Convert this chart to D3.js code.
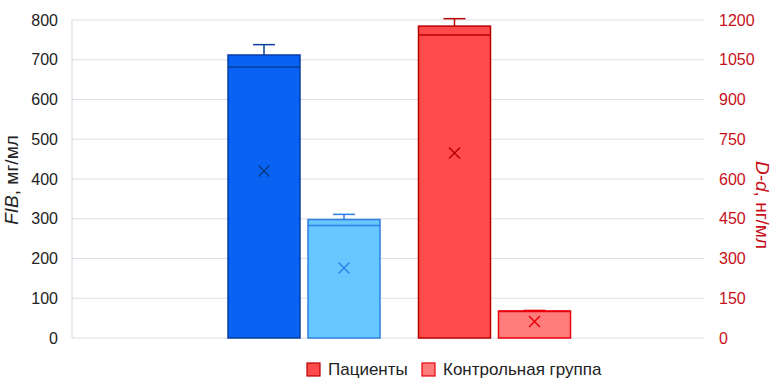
<!DOCTYPE html>
<html><head><meta charset="utf-8">
<script src="https://cdn.jsdelivr.net/npm/d3@7"></script>
<style>body{margin:0;background:#fff}svg{display:block;font-family:"Liberation Sans",Arial,sans-serif}</style>
</head><body><svg id="c" width="772" height="380"></svg>
<script>
const categories = ["FIB", "D-d"];
const seriesNames = ["Пациенты", "Контрольная группа"];
const leftTicks = [0,100,200,300,400,500,600,700,800];
const rightTicks = [0,150,300,450,600,750,900,1050,1200];
// per category: [patients, control]
const boxBottom = [[0, 0], [0, 0]];
const boxTop    = [[712, 298], [1177, 102]];
const medians   = [[682, 283], [1143, 100]];
const whiskerMax= [[738, 311], [1205, 104]];
const means     = [[420, 176], [698, 62]];

const fills   = [["#0a62f2", "#66c8ff"], ["#ff4b4b", "#ff7c7c"]];
const strokes = [["#0a3fa0", "#2f7fe6"], ["#b80000", "#e8000a"]];
const markCol = [["#0a3a8a", "#2f7fe6"], ["#b80000", "#e8000a"]];

const FONT = "'Liberation Sans',Arial,sans-serif";
const svg = d3.select("#c");
const plotL = 72, plotR = 704, plotT = 20, plotB = 338;
const yL = d3.scaleLinear().domain([0, 800]).range([plotB, plotT]);
const yR = d3.scaleLinear().domain([0, 1200]).range([plotB, plotT]);
const x = d3.scaleBand().domain(categories).range([208.75, 589.75]);
const xi = d3.scaleBand().domain(seriesNames).range([19.25, 171.25]).paddingInner(8/80);

// gridlines
svg.append("g").selectAll("line").data(leftTicks).join("line")
  .attr("x1", plotL).attr("x2", plotR)
  .attr("y1", d => yL(d)).attr("y2", d => yL(d))
  .attr("stroke", "#dcdce6").attr("stroke-width", 1.2);
svg.append("line").attr("x1", plotL).attr("x2", plotL).attr("y1", plotT).attr("y2", plotB)
  .attr("stroke", "#dcdce6").attr("stroke-width", 1.2);

// left axis
const gl = svg.append("g").attr("transform", `translate(${plotL},0)`)
  .call(d3.axisLeft(yL).tickValues(leftTicks).tickFormat(d3.format("d")).tickSize(0).tickPadding(14));
gl.select(".domain").remove();
gl.selectAll("text").attr("font-size", 16).attr("fill", "#222").attr("font-family", FONT);

// right axis
const gr = svg.append("g").attr("transform", `translate(${plotR},0)`)
  .call(d3.axisRight(yR).tickValues(rightTicks).tickFormat(d3.format("d")).tickSize(0).tickPadding(15));
gr.select(".domain").remove();
gr.selectAll("text").attr("font-size", 16).attr("fill", "#c8101a").attr("font-family", FONT);

// axis titles
const tl = svg.append("text").attr("transform", "translate(18,180) rotate(-90)")
  .attr("text-anchor", "middle").attr("font-size", 19).attr("fill", "#222").attr("font-family", FONT);
tl.append("tspan").attr("font-style", "italic").text("FIB");
tl.append("tspan").text(", мг/мл");
const tr = svg.append("text").attr("transform", "translate(756,205) rotate(90)")
  .attr("text-anchor", "middle").attr("font-size", 19).attr("fill", "#c8101a").attr("font-family", FONT);
tr.append("tspan").attr("font-style", "italic").text("D-d");
tr.append("tspan").text(", нг/мл");

// boxes
categories.forEach((cat, ci) => {
  const y = ci === 0 ? yL : yR;
  seriesNames.forEach((s, si) => {
    const x0 = x(cat) + xi(s), w = xi.bandwidth(), cx = x0 + w / 2;
    const g = svg.append("g");
    g.append("line").attr("x1", cx).attr("x2", cx)
      .attr("y1", y(boxTop[ci][si])).attr("y2", y(whiskerMax[ci][si]))
      .attr("stroke", strokes[ci][si]).attr("stroke-width", 1.5);
    g.append("line").attr("x1", cx - 11).attr("x2", cx + 11)
      .attr("y1", y(whiskerMax[ci][si])).attr("y2", y(whiskerMax[ci][si]))
      .attr("stroke", strokes[ci][si]).attr("stroke-width", 1.5);
    g.append("rect").attr("x", x0).attr("width", w)
      .attr("y", y(boxTop[ci][si])).attr("height", y(boxBottom[ci][si]) - y(boxTop[ci][si]))
      .attr("fill", fills[ci][si]).attr("stroke", strokes[ci][si]).attr("stroke-width", 1.5);
    g.append("line").attr("x1", x0).attr("x2", x0 + w)
      .attr("y1", y(medians[ci][si])).attr("y2", y(medians[ci][si]))
      .attr("stroke", strokes[ci][si]).attr("stroke-width", 1.5);
    const my = y(means[ci][si]), r = 5.5;
    g.append("path").attr("d", `M${cx-r},${my-r}L${cx+r},${my+r}M${cx-r},${my+r}L${cx+r},${my-r}`)
      .attr("stroke", markCol[ci][si]).attr("stroke-width", 1.5).attr("fill", "none");
  });
});

// legend
const legX = [307, 422];
seriesNames.forEach((s, i) => {
  svg.append("rect").attr("x", legX[i]).attr("y", 363).attr("width", 13).attr("height", 13)
    .attr("fill", fills[1][i]).attr("stroke", strokes[1][i]).attr("stroke-width", 1.2);
  svg.append("text").attr("x", legX[i] + 21).attr("y", 375).attr("font-size", 17)
    .attr("fill", "#222").attr("font-family", FONT).text(s);
});
</script></body></html>
